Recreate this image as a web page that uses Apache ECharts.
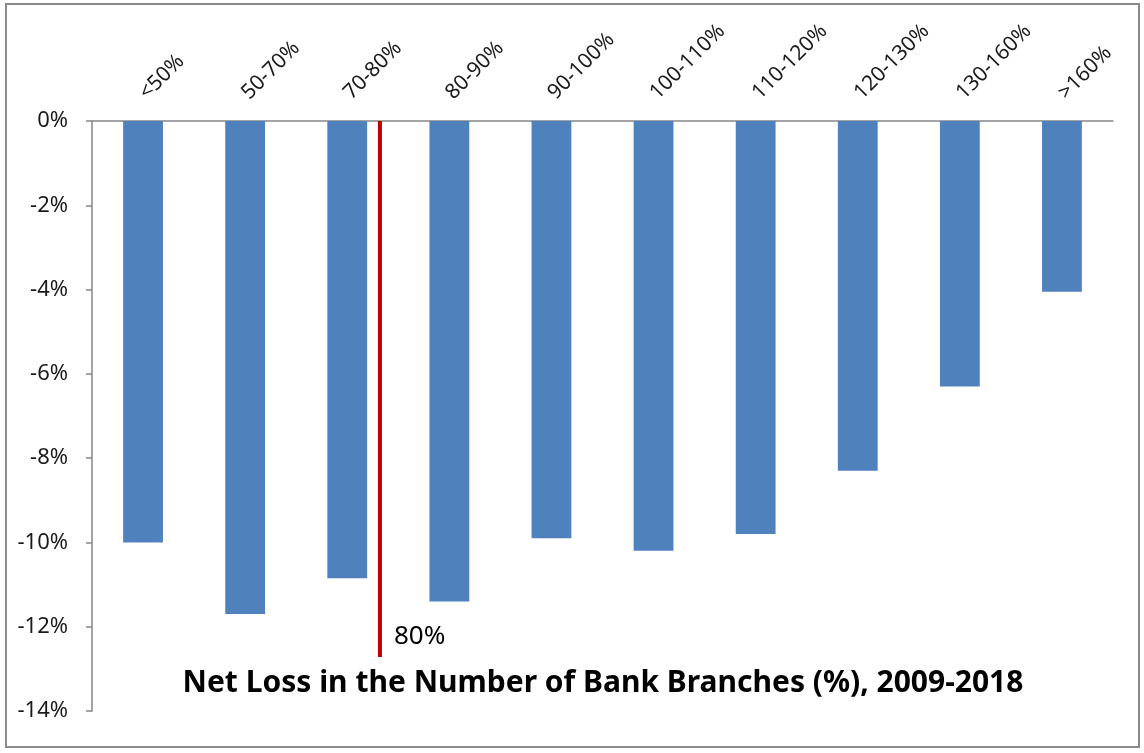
<!DOCTYPE html>
<html><head><meta charset="utf-8">
<script src="https://cdn.jsdelivr.net/npm/echarts@6/dist/echarts.min.js"></script>
<style>html,body{margin:0;padding:0;background:#fff}#c{width:1144px;height:753px}</style>
</head><body><div id="c"></div>
<script>
const categories = ['<50%','50-70%','70-80%','80-90%','90-100%','100-110%','110-120%','120-130%','130-160%','>160%'];
const netLoss = [-10.0,-11.7,-10.85,-11.4,-9.9,-10.2,-9.8,-8.3,-6.3,-4.05];
const thresholdLine = [[2.32,0],[2.32,-12.72]];
const thresholdLabel = '80%';
const yTicks = {min:-14, max:0, interval:2};
const titleText = 'Net Loss in the Number of Bank Branches (%), 2009-2018';

const chart = echarts.init(document.getElementById('c'), null, {renderer:'canvas'});
const font = 'Noto Sans';
chart.setOption({
  animation:false,
  backgroundColor:'#fff',
  title:{text:titleText,left:598,textAlign:'center',top:663,
    textStyle:{fontFamily:font,fontWeight:'bold',fontSize:30,color:'#000'}},
  graphic:[{type:'rect',shape:{x:6,y:4,width:1133,height:743},style:{fill:'none',stroke:'#8a8a8a',lineWidth:2},silent:true}],
  grid:{left:92,right:31,top:121,bottom:42,containLabel:false},
  xAxis:[{
    type:'category',data:categories,position:'top',
    axisLine:{lineStyle:{color:'#868686',width:1.5}},
    axisTick:{inside:true,length:7,lineStyle:{color:'#868686',width:1.5}},
    axisLabel:{rotate:45,fontFamily:font,fontSize:21,color:'#1a1a1a',margin:25,interval:0}
  },{
    type:'value',min:-0.5,max:9.5,show:false
  }],
  yAxis:{
    type:'value',min:yTicks.min,max:yTicks.max,interval:yTicks.interval,
    axisLine:{show:true,onZero:false,lineStyle:{color:'#868686',width:1.5}},
    axisTick:{show:true,length:6,lineStyle:{color:'#868686',width:1.5}},
    splitLine:{show:false},
    axisLabel:{formatter:v=>v+'%',fontFamily:font,fontSize:22,color:'#1a1a1a',margin:24}
  },
  series:[{
    type:'bar',data:netLoss,xAxisIndex:0,barWidth:'39%',
    itemStyle:{color:'#4f81bd'}
  },{
    type:'line',xAxisIndex:1,data:thresholdLine,symbol:'none',
    lineStyle:{color:'#c00000',width:4},
    endLabel:{show:true,formatter:thresholdLabel,fontFamily:font,fontSize:26,color:'#000',offset:[6,-20]}
  }]
});
</script></body></html>
